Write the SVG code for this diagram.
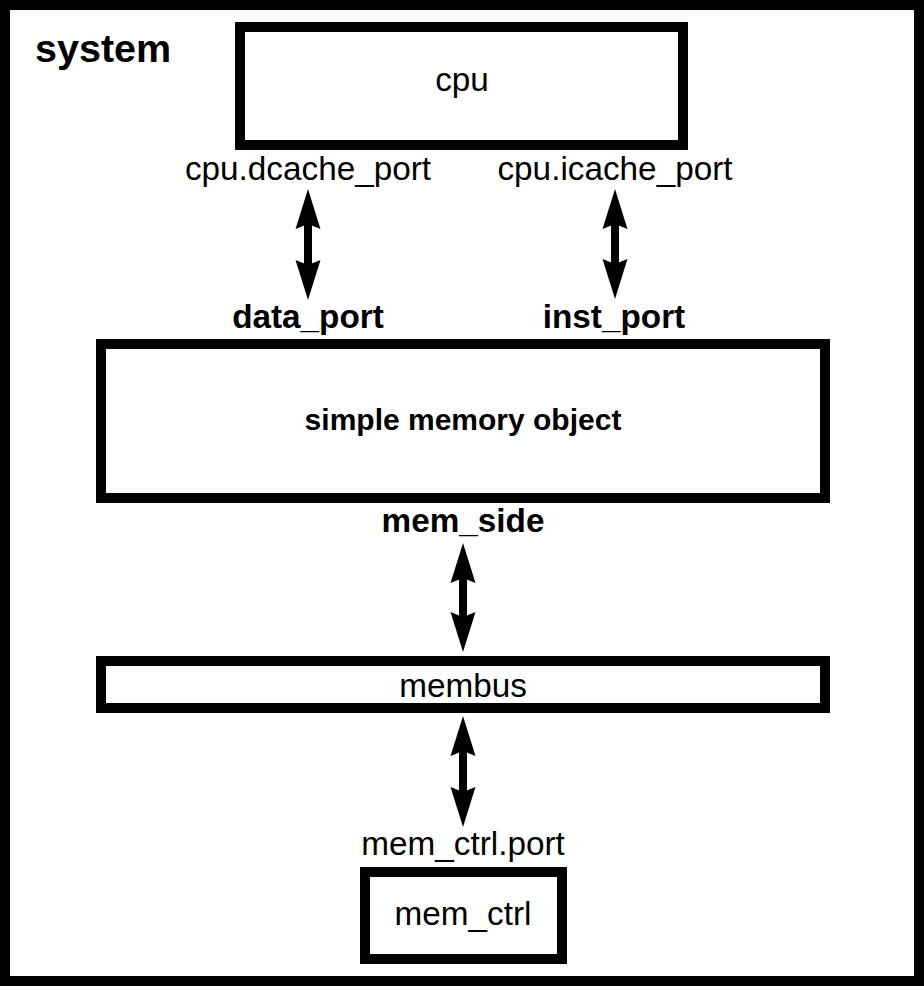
<svg xmlns="http://www.w3.org/2000/svg" width="924" height="986" viewBox="0 0 924 986">
  <defs>
    <style>
      .box { fill: #ffffff; stroke: #000000; stroke-width: 10; }
      .t { font-family: "Liberation Sans", Arial, sans-serif; font-size: 33.3px; fill: #000000; text-anchor: middle; }
      .b { font-weight: bold; }
      .conn { stroke: #000000; stroke-width: 8; fill: none; marker-start: url(#head); marker-end: url(#head); }
    </style>
    <marker id="head" markerUnits="userSpaceOnUse" orient="auto-start-reverse" markerWidth="60" markerHeight="40" refX="0" refY="0" viewBox="-10 -20 60 40" overflow="visible">
      <path d="M35,0 L-5,-12.5 L0,0 L-5,12.5 Z" fill="#000000"/>
    </marker>
  </defs>
  <rect x="0" y="0" width="924" height="986" fill="#ffffff"/>

  <g id="system">
    <rect class="box" x="5" y="5" width="914" height="976"/>
    <text class="t b" x="35" y="62" style="text-anchor:start;font-size:39.5px">system</text>
  </g>

  <g id="cpu">
    <rect class="box" x="240" y="27" width="443" height="118"/>
    <text class="t" x="462" y="91">cpu</text>
    <text class="t" x="308" y="180">cpu.dcache_port</text>
    <text class="t" x="615" y="180">cpu.icache_port</text>
  </g>

  <g id="simple_memory_object">
    <text class="t b" x="308" y="328">data_port</text>
    <text class="t b" x="614" y="328">inst_port</text>
    <rect class="box" x="101" y="344" width="724" height="154"/>
    <text class="t b" x="463" y="430" style="font-size:30px">simple memory object</text>
    <text class="t b" x="463" y="532">mem_side</text>
  </g>

  <g id="membus">
    <rect class="box" x="101" y="661" width="724" height="47"/>
    <text class="t" x="463" y="697">membus</text>
  </g>

  <g id="mem_ctrl">
    <text class="t" x="463" y="855">mem_ctrl.port</text>
    <rect class="box" x="365" y="872" width="197" height="87"/>
    <text class="t" x="463" y="925">mem_ctrl</text>
  </g>

  <g id="connectors">
    <line class="conn" x1="308" y1="224" x2="308" y2="265"/>
    <line class="conn" x1="615" y1="224" x2="615" y2="264"/>
    <line class="conn" x1="463" y1="578" x2="463" y2="617"/>
    <line class="conn" x1="463" y1="751" x2="463" y2="792"/>
  </g>
</svg>
